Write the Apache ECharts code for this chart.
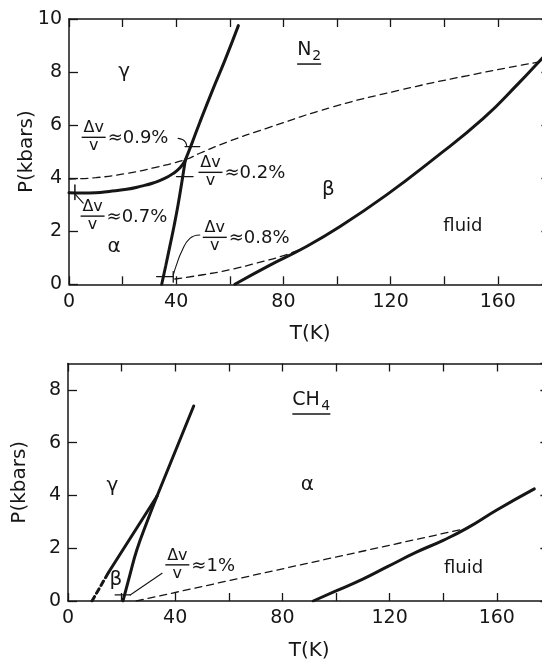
<!DOCTYPE html>
<html><head><meta charset="utf-8">
<script src="https://cdn.jsdelivr.net/npm/echarts@6/dist/echarts.min.js"></script>
<style>html,body{margin:0;padding:0;background:#fff;}#c{width:542px;height:659px;}</style>
</head><body><div id="c"></div>
<script>
// ===== N2 panel (T in K, P in kbar) =====
const n2AlphaGamma = [[0,3.45],[5,3.44],[10,3.45],[15,3.5],[21.5,3.58],[27,3.7],[31.4,3.82],[35.5,3.98],[38.9,4.18],[41.5,4.4],[43.4,4.68]];
const n2AlphaBeta  = [[34.6,0],[36.1,0.7],[37.6,1.42],[39.2,2.2],[40.7,3.0],[42.1,3.85],[43.4,4.68]];
const n2GammaBeta  = [[43.4,4.68],[46,5.35],[48.8,6.1],[53.5,7.3],[58.2,8.45],[63.2,9.75]];
const n2Melting    = [[61.9,0],[75,0.72],[87.4,1.36],[101,2.17],[118.5,3.37],[136,4.72],[154.6,6.25],[168,7.6],[175,8.35],[180,8.9]];
const n2UpperDash  = [[0,3.97],[10,4.02],[21.5,4.18],[32,4.4],[43.4,4.7],[48.8,4.94],[60,5.4],[73.7,5.88],[98.6,6.69],[123.5,7.32],[148.4,7.86],[175.3,8.38]];
const n2LowerDash  = [[39.5,0.2],[50,0.36],[60,0.55],[70,0.8],[80,1.08],[87.4,1.36]];
const n2Tick09 = [[43.3,5.19],[48.8,5.19]];
const n2Tick02 = [[40.1,4.06],[46.3,4.06]];
const n2Tick08 = [[32.7,0.29],[38.9,0.29]];
const n2Tick08v = [[38.9,0.08],[38.9,0.48]];
const n2Tick07 = [[2.2,3.74],[2.2,3.2]];
const n2Lead09 = [[40.7,5.5],[42.5,5.45],[43.5,5.35],[43.9,5.22]];
const n2Lead07 = [[2.2,3.41],[5.3,3.06]];
const n2Lead08 = [[48.8,1.86],[45.1,1.73],[42,1.23],[40.1,0.73],[38.9,0.35]];
const n2Labels = [
  [20.6,8.0,'greek','γ'],[16.8,1.42,'greek','α'],[96.8,3.55,'greek','β'],
  [147,2.2,'plain','fluid'],[89.6,8.83,'formula','N','2'],
  [9.2,5.54,'frac','≈0.9%'],[8.8,2.57,'frac','≈0.7%'],[52.8,4.22,'frac','≈0.2%'],[54.4,1.77,'frac','≈0.8%']
];

// ===== CH4 panel =====
const ch4GammaBetaDash = [[8.95,0],[15.1,1.08]];
const ch4GammaBeta = [[15.1,1.08],[33.2,3.97]];
const ch4BetaAlpha = [[20.5,0],[23,0.95],[25.7,1.94],[29.5,3.0],[33.2,3.97]];
const ch4GammaAlpha = [[33.2,3.97],[46.9,7.39]];
const ch4Melting = [[91.5,0],[100,0.38],[110,0.83],[119.2,1.3],[130,1.85],[140,2.3],[148.9,2.76],[160,3.45],[174,4.25]];
const ch4Dash = [[25.5,0],[149,2.76]];
const ch4Tick = [[17.6,0.23],[23.2,0.23]];
const ch4Lead = [[23.2,0.23],[35.1,1.05]];
const ch4Labels = [
  [16.6,4.35,'greek','γ'],[89.3,4.41,'greek','α'],[17.9,0.8,'greek','β'],
  [147.6,1.24,'plain','fluid'],[90.8,7.62,'formula','CH','4'],
  [40.8,1.37,'frac','≈1%']
];

const xTicks = {min:0, max:180, interval:20};
const n2Y = {min:0, max:10, interval:2};
const ch4Y = {min:0, max:9, interval:2};

const FONT = 'DejaVu Sans';
const INK = '#161616';

function xAxisPair(gi, gap){
  return [{
    gridIndex:gi, type:'value', position:'bottom', min:xTicks.min, max:xTicks.max, interval:xTicks.interval,
    name:'T(K)', nameLocation:'middle', nameGap:gap, nameMoveOverlap:false,
    nameTextStyle:{fontFamily:FONT, fontSize:20, color:INK},
    axisLine:{onZero:false, lineStyle:{color:INK, width:1.5}},
    axisTick:{inside:true, length:8, lineStyle:{color:INK, width:1.3}},
    axisLabel:{fontFamily:FONT, fontSize:19, color:INK, margin:8, formatter:v => (v % 40 === 0 ? String(v) : '')},
    splitLine:{show:false}
  },{
    gridIndex:gi, type:'value', position:'top', min:xTicks.min, max:xTicks.max, interval:xTicks.interval,
    axisLine:{onZero:false, lineStyle:{color:INK, width:1.5}},
    axisTick:{inside:true, length:8, lineStyle:{color:INK, width:1.3}},
    axisLabel:{show:false}, splitLine:{show:false}
  }];
}
function yAxisPair(gi, sc, gap){
  return [{
    gridIndex:gi, type:'value', position:'left', min:sc.min, max:sc.max, interval:sc.interval,
    name:'P(kbars)', nameLocation:'middle', nameGap:gap, nameRotate:90, nameMoveOverlap:false,
    nameTextStyle:{fontFamily:FONT, fontSize:20, color:INK},
    axisLine:{show:true, onZero:false, lineStyle:{color:INK, width:1.5}},
    axisTick:{show:true, inside:true, length:9, lineStyle:{color:INK, width:1.3}},
    axisLabel:{fontFamily:FONT, fontSize:19, color:INK, margin:7, showMaxLabel: sc.max % sc.interval === 0},
    splitLine:{show:false}
  },{
    gridIndex:gi, type:'value', position:'right', min:sc.min, max:sc.max, interval:sc.interval,
    axisLine:{show:true, onZero:false, lineStyle:{color:INK, width:1.5}},
    axisTick:{show:true, inside:true, length:10, lineStyle:{color:INK, width:1.3}},
    axisLabel:{show:false}, splitLine:{show:false}
  }];
}

function line(data, xi, yi, opts){
  opts = opts || {};
  return {
    type:'line', data:data, xAxisIndex:xi, yAxisIndex:yi, symbol:'none', showSymbol:false,
    smooth: opts.smooth || false, silent:true, animation:false, z: opts.z || 3,
    lineStyle:{color:INK, width: opts.width || 3, type: opts.dash || 'solid', cap:'round'}
  };
}

function labelSeries(list, xi, yi){
  return {
    type:'custom', xAxisIndex:xi, yAxisIndex:yi, silent:true, animation:false, z:5,
    data: list.map(d => [d[0], d[1]]),
    renderItem: function(params, api){
      const item = list[params.dataIndex];
      const p = api.coord([api.value(0), api.value(1)]);
      const x = p[0], y = p[1];
      const kind = item[2];
      if (kind === 'greek' || kind === 'plain') {
        return {type:'text', x:x, y:y, style:{text:item[3], fill:INK,
          font: (kind === 'greek' ? '20px ' : '18px ') + FONT, align:'center', verticalAlign:'middle'}};
      }
      if (kind === 'formula') {
        const mainW = item[3].length === 1 ? 15 : 29;
        const left = x - (mainW + 9) / 2;
        return {type:'group', children:[
          {type:'text', x:left, y:y, style:{text:item[3], fill:INK, font:'19px ' + FONT, align:'left', verticalAlign:'middle'}},
          {type:'text', x:left + mainW, y:y + 6, style:{text:item[4], fill:INK, font:'14px ' + FONT, align:'left', verticalAlign:'middle'}},
          {type:'line', shape:{x1:left, y1:y + 14, x2:left + mainW + 9, y2:y + 14}, style:{stroke:INK, lineWidth:1.5}}
        ]};
      }
      return {type:'group', children:[
        {type:'text', x:x, y:y - 1, style:{text:'Δv', fill:INK, font:'16px ' + FONT, align:'center', verticalAlign:'bottom'}},
        {type:'line', shape:{x1:x - 12, y1:y, x2:x + 12, y2:y}, style:{stroke:INK, lineWidth:1.4}},
        {type:'text', x:x, y:y + 1, style:{text:'v', fill:INK, font:'16px ' + FONT, align:'center', verticalAlign:'top'}},
        {type:'text', x:x + 14, y:y + 1, style:{text:item[3], fill:INK, font:'18px ' + FONT, align:'left', verticalAlign:'middle'}}
      ]};
    }
  };
}

const chart = echarts.init(document.getElementById('c'), null, {renderer:'canvas'});
chart.setOption({
  backgroundColor:'#ffffff',
  animation:false,
  grid:[
    {left:69, top:19, width:482.4, height:265.3, outerBoundsMode:'none', containLabel:false},
    {left:68, top:363.5, width:482.4, height:237.5, outerBoundsMode:'none', containLabel:false}
  ],
  xAxis: [...xAxisPair(0, 39), ...xAxisPair(1, 40)],
  yAxis: [...yAxisPair(0, n2Y, 32), ...yAxisPair(1, ch4Y, 38)],
  series: [
    line(n2AlphaGamma, 0, 0, {smooth:true}),
    line(n2AlphaBeta, 0, 0, {smooth:true}),
    line(n2GammaBeta, 0, 0, {smooth:true}),
    line(n2Melting, 0, 0, {smooth:true}),
    line(n2UpperDash, 0, 0, {smooth:true, width:1.3, dash:[7,5]}),
    line(n2LowerDash, 0, 0, {smooth:true, width:1.3, dash:[7,5]}),
    line(n2Tick09, 0, 0, {width:1.3}),
    line(n2Tick02, 0, 0, {width:1.3}),
    line(n2Tick08, 0, 0, {width:1.3}),
    line(n2Tick08v, 0, 0, {width:1.3}),
    line(n2Tick07, 0, 0, {width:1.5}),
    line(n2Lead09, 0, 0, {smooth:true, width:1.1}),
    line(n2Lead07, 0, 0, {width:1.1}),
    line(n2Lead08, 0, 0, {smooth:true, width:1.1}),
    labelSeries(n2Labels, 0, 0),

    line(ch4GammaBetaDash, 2, 2, {width:3, dash:[5,4]}),
    line(ch4GammaBeta, 2, 2, {}),
    line(ch4BetaAlpha, 2, 2, {smooth:true}),
    line(ch4GammaAlpha, 2, 2, {}),
    line(ch4Melting, 2, 2, {smooth:true}),
    line(ch4Dash, 2, 2, {width:1.3, dash:[7,5]}),
    line(ch4Tick, 2, 2, {width:1.3}),
    line(ch4Lead, 2, 2, {width:1.1}),
    labelSeries(ch4Labels, 2, 2)
  ]
});
</script></body></html>
